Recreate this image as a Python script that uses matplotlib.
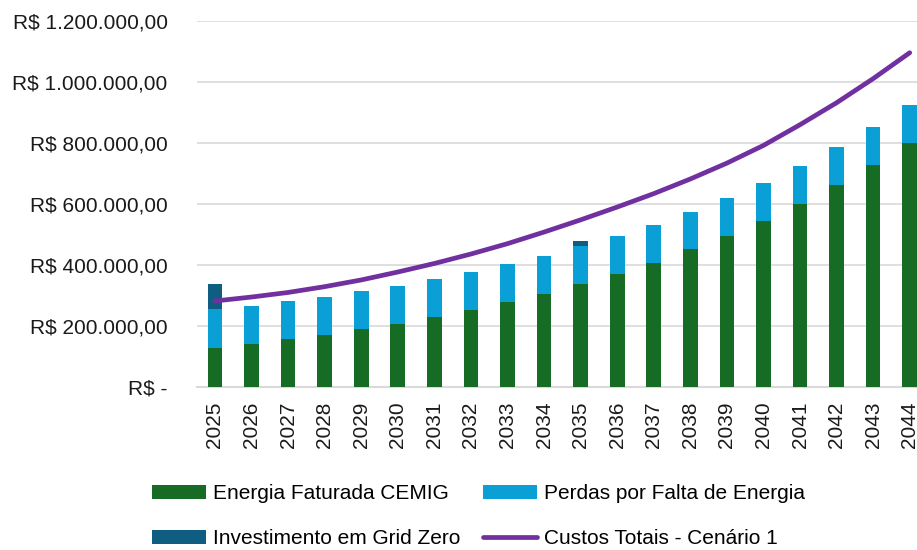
import matplotlib
matplotlib.use("Agg")
import matplotlib.pyplot as plt
from matplotlib.patches import Patch
from matplotlib.lines import Line2D
import numpy as np

plt.rcParams["font.family"] = ["Liberation Sans", "DejaVu Sans"]

YEARS = [str(y) for y in range(2025, 2045)]
ENERGIA_CEMIG = [128000, 141000, 156000, 171000, 189000, 208000, 229000, 252000, 278000, 306000,
                 338000, 371000, 408000, 451000, 496000, 545000, 601000, 661000, 727000, 800000]
PERDAS = [127000, 124000, 125000, 125000, 125000, 124000, 124000, 125000, 126000, 124000,
          124000, 125000, 124000, 124000, 124000, 125000, 125000, 125000, 125000, 126000]
GRID_ZERO = [83000, 0, 0, 0, 0, 0, 0, 0, 0, 0,
             16000, 0, 0, 0, 0, 0, 0, 0, 0, 0]
CUSTOS_TOTAIS = [282000, 295000, 310000, 329000, 351000, 377000, 405000, 436000, 470000, 508000,
                 548000, 590000, 634000, 682000, 734000, 792000, 860000, 932000, 1011000, 1096000]
Y_TICKS = [0, 200000, 400000, 600000, 800000, 1000000, 1200000]
Y_LABELS = ["R$ -", "R$ 200.000,00", "R$ 400.000,00", "R$ 600.000,00",
            "R$ 800.000,00", "R$ 1.000.000,00", "R$ 1.200.000,00"]

GREEN = "#166C24"
BLUE = "#0AA0D6"
TEAL = "#0F5E82"
PURPLE = "#7030A0"
GRID = "#D9D9D9"

fig = plt.figure(figsize=(9.17, 5.5), dpi=100)
ax = fig.add_axes([196.7 / 917, 163 / 550, 731.3 / 917, 366 / 550])

x = np.arange(len(YEARS))
energia = np.array(ENERGIA_CEMIG)
perdas = np.array(PERDAS)
grid = np.array(GRID_ZERO)

ax.bar(x, energia, width=0.4, color=GREEN, zorder=2)
ax.bar(x, perdas, width=0.4, bottom=energia, color=BLUE, zorder=2)
ax.bar(x, grid, width=0.4, bottom=energia + perdas, color=TEAL, zorder=2)
ax.plot(x, CUSTOS_TOTAIS, color=PURPLE, linewidth=3.4, solid_capstyle="round",
        solid_joinstyle="round", zorder=3)

ax.set_xlim(-0.5, len(YEARS) - 0.5)
ax.set_ylim(0, 1200000)
ax.set_yticks(Y_TICKS)
ax.set_yticklabels(Y_LABELS, fontsize=15, color="#1a1a1a")
ax.set_xticks(x)
ax.set_xticklabels(YEARS, rotation=90, fontsize=15, color="#1a1a1a")
ax.tick_params(axis="y", length=0, pad=21)
ax.tick_params(axis="x", length=0, pad=10.5)
ax.grid(axis="y", color=GRID, linewidth=1.2, zorder=0)
ax.set_axisbelow(True)
for side in ["top", "right", "left"]:
    ax.spines[side].set_visible(False)
ax.spines["bottom"].set_color(GRID)
ax.spines["bottom"].set_linewidth(1.5)
ax.spines["bottom"].set_zorder(1)

handles = [
    Patch(facecolor=GREEN, label="Energia Faturada CEMIG"),
    Patch(facecolor=TEAL, label="Investimento em Grid Zero"),
    Patch(facecolor=BLUE, label="Perdas por Falta de Energia"),
    Line2D([0], [0], color=PURPLE, linewidth=3.4, solid_capstyle="round", label="Custos Totais - Cenário 1"),
]
fig.legend(handles=handles, ncol=2, loc="upper left", bbox_to_anchor=(152 / 917, 1 - 484 / 550),
           frameon=False, fontsize=15, handlelength=2.6, handleheight=0.65, handletextpad=0.35,
           columnspacing=1.05, labelspacing=1.25, borderpad=0, borderaxespad=0)

fig.savefig("out.png", dpi=100)
